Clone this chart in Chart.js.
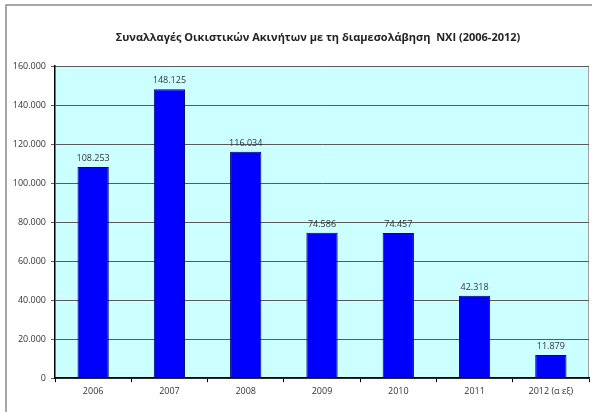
<!DOCTYPE html>
<html>
<head>
<meta charset="utf-8">
<script src="https://cdn.jsdelivr.net/npm/chart.js@4"></script>
<style>
  html, body { margin: 0; padding: 0; background: #fff; }
  #wrap { width: 592px; height: 412px; position: relative; }
</style>
</head>
<body>
<div id="wrap"><canvas id="BarChart" width="592" height="412"></canvas></div>
<script>
const years = ['2006', '2007', '2008', '2009', '2010', '2011', '2012 (α εξ)'];
const transactions = [108253, 148125, 116034, 74586, 74457, 42318, 11879];
const yTicks = [0, 20000, 40000, 60000, 80000, 100000, 120000, 140000, 160000];

const chartTitle = 'Συναλλαγές Οικιστικών Ακινήτων με τη διαμεσολάβηση  ΝΧΙ (2006-2012)';

// 108253 -> "108.253"
function dotted(v) {
  return String(Math.round(v)).replace(/\B(?=(\d{3})+(?!\d))/g, '.');
}

// page frame, title, plot background and border
const frame = {
  id: 'frame',
  beforeDraw(chart) {
    const ctx = chart.ctx, a = chart.chartArea;
    ctx.save();
    ctx.strokeStyle = '#8a8a8a';
    ctx.lineWidth = 1.5;
    ctx.beginPath();
    ctx.moveTo(6, 412);
    ctx.lineTo(6, 5);
    ctx.lineTo(592, 5);
    ctx.stroke();

    ctx.fillStyle = '#222';
    ctx.font = 'bold 11px "Open Sans", sans-serif';
    ctx.textAlign = 'center';
    ctx.textBaseline = 'middle';
    ctx.fillText(chartTitle, 318, 38);

    ctx.fillStyle = '#ccffff';
    ctx.fillRect(a.left, a.top, a.right - a.left, a.bottom - a.top);
    ctx.strokeStyle = '#a0a0a0';
    ctx.lineWidth = 1;
    ctx.beginPath();
    ctx.moveTo(a.left, a.top + 0.5);
    ctx.lineTo(a.right - 0.5, a.top + 0.5);
    ctx.lineTo(a.right - 0.5, a.bottom);
    ctx.stroke();
    ctx.restore();
  }
};

// value labels over the bars
const barValues = {
  id: 'barValues',
  afterDatasetsDraw(chart) {
    const ctx = chart.ctx;
    const meta = chart.getDatasetMeta(0);
    ctx.save();
    ctx.font = '9px "Open Sans", sans-serif';
    ctx.fillStyle = '#333';
    ctx.textAlign = 'center';
    ctx.textBaseline = 'bottom';
    meta.data.forEach((bar, i) => {
      ctx.fillText(dotted(chart.data.datasets[0].data[i]), bar.x, bar.y - 4);
    });
    ctx.restore();
  }
};

new Chart(document.getElementById('BarChart').getContext('2d'), {
  type: 'bar',
  data: {
    labels: years,
    datasets: [{
      label: 'Συναλλαγές',
      data: transactions,
      backgroundColor: '#0000ff',
      borderColor: '#000066',
      borderWidth: 1,
      barPercentage: 0.41,
      categoryPercentage: 1
    }]
  },
  options: {
    responsive: false,
    animation: false,
    layout: { padding: { left: 10, right: 3, top: 66, bottom: 11 } },
    plugins: {
      legend: { display: false },
      tooltip: { enabled: false },
      title: { display: false }
    },
    scales: {
      x: {
        offset: true,
        grid: { drawOnChartArea: false, drawTicks: true, tickLength: 4, color: '#000', offset: true },
        border: { color: '#000', width: 1.5 },
        ticks: { color: '#333', font: { family: '"Open Sans", sans-serif', size: 9 }, padding: 4, maxRotation: 0 }
      },
      y: {
        min: 0,
        max: 160000,
        afterBuildTicks(scale) { scale.ticks = yTicks.map(v => ({ value: v })); },
        afterFit(scale) { scale.width = 45; },
        grid: { color: '#5a5a5a', lineWidth: 1, tickLength: 4, drawTicks: true },
        border: { color: '#000', width: 1.5 },
        ticks: {
          color: '#333',
          font: { family: '"Open Sans", sans-serif', size: 9 },
          padding: 5,
          callback: v => dotted(v)
        }
      }
    }
  },
  plugins: [frame, barValues]
});
</script>
</body>
</html>
